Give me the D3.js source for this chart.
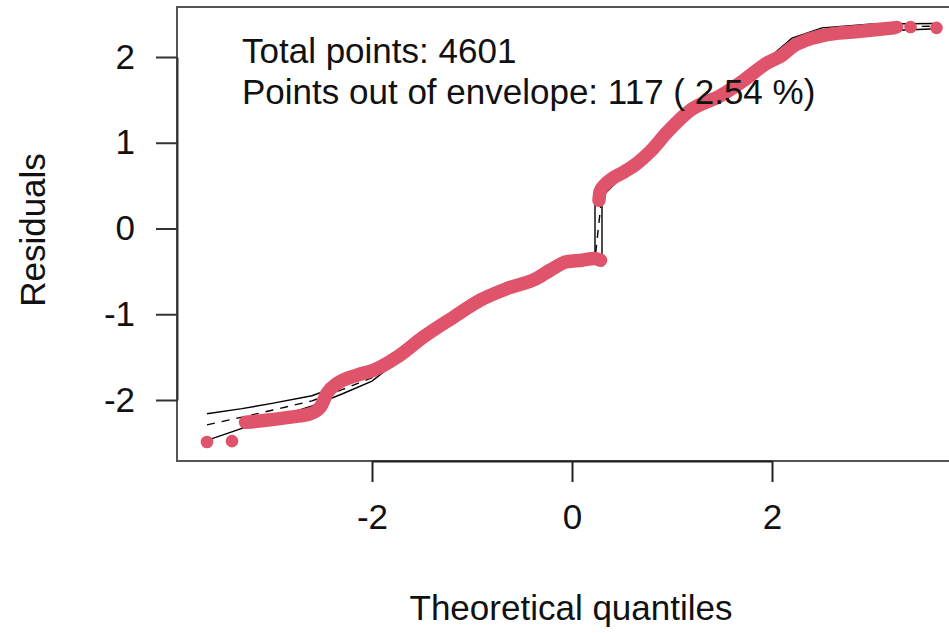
<!DOCTYPE html>
<html>
<head>
<meta charset="utf-8">
<script src="https://cdn.jsdelivr.net/npm/d3@7"></script>
<style>
  body { margin: 0; background: #fff; }
  text { font-family: "Liberation Sans", Arial, Helvetica, sans-serif; fill: #111; }
</style>
</head>
<body>
<div id="chart"></div>
<script>
// Q-Q residuals
var quantLo = [-3.265, -3.08, -2.815, -2.615, -2.515, -2.45, -2.35, -2.15, -1.98, -1.75, -1.48, -1.18, -0.915, -0.65, -0.35, -0.215, -0.05, 0.10, 0.22, 0.285];
var residLo = [-2.26, -2.24, -2.20, -2.16, -2.08, -1.92, -1.81, -1.71, -1.65, -1.50, -1.26, -1.03, -0.834, -0.70, -0.58, -0.484, -0.387, -0.37, -0.35, -0.37];
var quantHi = [0.27, 0.28, 0.32, 0.40, 0.52, 0.65, 0.785, 0.95, 1.185, 1.485, 1.72, 1.95, 2.10, 2.22, 2.35, 2.55, 2.885, 3.22];
var residHi = [0.33, 0.43, 0.50, 0.58, 0.66, 0.76, 0.90, 1.12, 1.38, 1.55, 1.73, 1.93, 2.02, 2.13, 2.20, 2.26, 2.30, 2.34];
// isolated points at both tails
var tailQ = [-3.65, -3.40, 3.25, 3.385, 3.645];
var tailR = [-2.49, -2.48, 2.35, 2.35, 2.34];

// simulated envelope
var envQ      = [-3.65, -3.3, -3.0, -2.6, -2.3, -2.0, -1.75, -1.48, -1.18, -0.915, -0.65, -0.35, -0.05, 0.23, 0.23, 0.30, 0.30, 0.52, 0.785, 0.95, 1.185, 1.485, 1.72, 1.95, 2.2, 2.5, 3.0, 3.65];
var envUpper  = [-2.16, -2.10, -2.04, -1.95, -1.82, -1.70, -1.49, -1.24, -1.01, -0.81, -0.68, -0.56, -0.37, -0.34, 0.38, 0.45, 0.47, 0.69, 0.93, 1.14, 1.39, 1.59, 1.77, 1.97, 2.22, 2.34, 2.385, 2.39];
var envMedian = [-2.29, -2.20, -2.12, -2.01, -1.88, -1.74, -1.52, -1.27, -1.04, -0.84, -0.70, -0.58, -0.39, -0.36, -0.36, 0.40, 0.42, 0.66, 0.90, 1.11, 1.36, 1.56, 1.74, 1.94, 2.15, 2.29, 2.35, 2.36];
var envLower  = [-2.47, -2.33, -2.22, -2.07, -1.93, -1.78, -1.55, -1.30, -1.07, -0.87, -0.73, -0.61, -0.42, -0.38, -0.38, -0.36, 0.37, 0.63, 0.87, 1.08, 1.33, 1.53, 1.71, 1.91, 2.10, 2.24, 2.30, 2.33];

var xTicks = [-2, 0, 2];
var yTicks = [-2, -1, 0, 1, 2];
var totalPoints = 4601;
var outPoints = 117;
var outPct = "2.54";

var width = 949, height = 633;
var red = "#DF536B";
var fontSize = "35px";

var svg = d3.select("#chart")
  .append("svg")
  .attr("width", width)
  .attr("height", height);

// plot region (right edge runs past the picture)
var plot = { left: 177, top: 7, right: 975, bottom: 461 };

var x = d3.scaleLinear().domain([-2, 2]).range([372, 772]);
var y = d3.scaleLinear().domain([-2, 2]).range([400, 57]);

// box
svg.append("rect")
  .attr("x", plot.left)
  .attr("y", plot.top)
  .attr("width", plot.right - plot.left)
  .attr("height", plot.bottom - plot.top)
  .attr("fill", "none")
  .attr("stroke", "#555")
  .attr("stroke-width", 2);

// plain hyphen for negatives, like R
var fmt = function(d) { return String(d); };

// x axis
var xAxis = svg.append("g")
  .attr("transform", "translate(0," + plot.bottom + ")")
  .call(d3.axisBottom(x).tickValues(xTicks).tickSize(21).tickSizeOuter(0).tickPadding(22).tickFormat(fmt));
xAxis.select(".domain").attr("stroke", "#222").attr("stroke-width", 2);
xAxis.selectAll(".tick line").attr("stroke", "#222").attr("stroke-width", 2);
xAxis.selectAll("text").attr("font-family", null).attr("fill", "#111").style("font-size", fontSize);

// y axis
var yAxis = svg.append("g")
  .attr("transform", "translate(" + plot.left + ",0)")
  .call(d3.axisLeft(y).tickValues(yTicks).tickSize(21).tickSizeOuter(0).tickPadding(21).tickFormat(fmt));
yAxis.select(".domain").attr("stroke", "#333").attr("stroke-width", 2);
yAxis.selectAll(".tick line").attr("stroke", "#333").attr("stroke-width", 2);
yAxis.selectAll("text").attr("font-family", null).attr("fill", "#111").style("font-size", fontSize);

// axis titles
svg.append("text")
  .attr("x", 571)
  .attr("y", 620)
  .attr("text-anchor", "middle")
  .style("font-size", fontSize)
  .text("Theoretical quantiles");

svg.append("text")
  .attr("transform", "translate(45,230) rotate(-90)")
  .attr("text-anchor", "middle")
  .style("font-size", fontSize)
  .text("Residuals");

// envelope lines
var envLine = d3.line()
  .x(function(d) { return x(d[0]); })
  .y(function(d) { return y(d[1]); });

function envData(vals) {
  return envQ.map(function(q, i) { return [q, vals[i]]; });
}

svg.append("path")
  .attr("d", envLine(envData(envUpper)))
  .attr("fill", "none").attr("stroke", "#000").attr("stroke-width", 1.4);
svg.append("path")
  .attr("d", envLine(envData(envLower)))
  .attr("fill", "none").attr("stroke", "#000").attr("stroke-width", 1.4);
svg.append("path")
  .attr("d", envLine(envData(envMedian)))
  .attr("fill", "none").attr("stroke", "#000").attr("stroke-width", 1.4)
  .attr("stroke-dasharray", "8,7");

// dense residual points drawn as a thick band
var band = d3.line()
  .x(function(d) { return x(d[0]); })
  .y(function(d) { return y(d[1]); })
  .curve(d3.curveMonotoneX);

[[quantLo, residLo], [quantHi, residHi]].forEach(function(br) {
  var pts = br[0].map(function(q, i) { return [q, br[1][i]]; });
  svg.append("path")
    .attr("d", band(pts))
    .attr("fill", "none")
    .attr("stroke", red)
    .attr("stroke-width", 13.5)
    .attr("stroke-linecap", "round")
    .attr("stroke-linejoin", "round");
});

svg.selectAll("circle.tail")
  .data(tailQ)
  .enter().append("circle")
  .attr("class", "tail")
  .attr("cx", function(d) { return x(d); })
  .attr("cy", function(d, i) { return y(tailR[i]); })
  .attr("r", 6.3)
  .attr("fill", red);

// annotation
svg.append("text")
  .attr("x", 242)
  .attr("y", 63)
  .style("font-size", fontSize)
  .text("Total points: " + totalPoints);

svg.append("text")
  .attr("x", 242)
  .attr("y", 104)
  .style("font-size", fontSize)
  .text("Points out of envelope: " + outPoints + " ( " + outPct + " %)");
</script>
</body>
</html>
